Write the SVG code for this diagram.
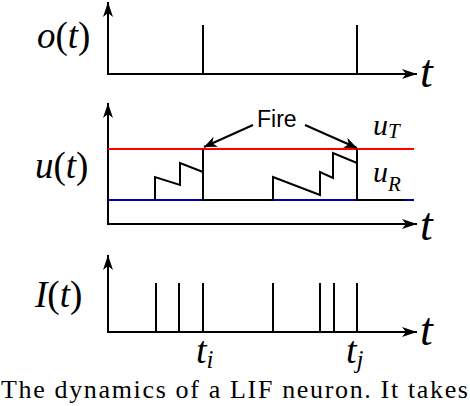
<svg xmlns="http://www.w3.org/2000/svg" width="470" height="406" viewBox="0 0 470 406">
<style>
.ax{stroke:#000;stroke-width:2;fill:none}
.sp{stroke:#000;stroke-width:2;fill:none}
.m{font-family:'Liberation Serif','Times New Roman',serif;font-style:italic;fill:#000}
.r{font-style:normal}
.cap{font-family:'Liberation Serif','Times New Roman',serif;font-size:26px;fill:#000}
</style>
<defs>
<marker id="ah" markerUnits="userSpaceOnUse" markerWidth="16" markerHeight="12" viewBox="-15 -6 16 12" refX="0" refY="0" orient="auto">
<path d="M0,0 L-15,-5 L-11,0 L-15,5 Z" fill="#000"/>
</marker>
<marker id="fh" markerUnits="userSpaceOnUse" markerWidth="14" markerHeight="12" viewBox="-13 -6 14 12" refX="0" refY="0" orient="auto">
<path d="M0,0 L-13,-5.5 L-9,0 L-13,5.5 Z" fill="#000"/>
</marker>
</defs>
<rect width="470" height="406" fill="#fff"/>

<g id="panel-o">
<path class="ax" d="M108,74 V2" marker-end="url(#ah)"/>
<path class="ax" d="M107,74 H417" marker-end="url(#ah)"/>
<path class="sp" d="M203,74 V25 M357,74 V25"/>
<text class="m" x="37" y="48" font-size="37">o<tspan class="r">(</tspan>t<tspan class="r">)</tspan></text>
<text class="m" x="420" y="87" font-size="46">t</text>
</g>

<g id="panel-u">
<path class="ax" d="M108,224 V103" marker-end="url(#ah)"/>
<path class="ax" d="M107,224 H417" marker-end="url(#ah)"/>
<line x1="108" y1="149" x2="414" y2="149" stroke="#f00" stroke-width="2"/>
<line x1="108" y1="200" x2="414" y2="200" stroke="#00a" stroke-width="2"/>
<path class="sp" stroke-linejoin="miter" d="M155,200 V177 L180,185 V163 L203,172 V149 M203,149 V200 H273 V177 L320,195 V172 L333,178 V153 L357,163 V149 M357,149 V200 H404"/>
<text class="m" x="35" y="178" font-size="37">u<tspan class="r">(</tspan>t<tspan class="r">)</tspan></text>
<text class="m" x="420" y="240" font-size="46">t</text>
<text class="m" x="373" y="135" font-size="30">u<tspan font-size="21" dy="3">T</tspan></text>
<text class="m" x="373" y="182" font-size="30">u<tspan font-size="21" dy="9">R</tspan></text>
</g>

<g id="fire">
<text x="257" y="127" font-family="'Liberation Sans', Arial, sans-serif" font-size="23" fill="#000">Fire</text>
</g>

<g id="connectors">
<path class="sp" d="M253,125 L204,147" marker-end="url(#fh)"/>
<path class="sp" d="M305,125 L357,148" marker-end="url(#fh)"/>
</g>

<g id="panel-I">
<path class="ax" d="M108,332 V255" marker-end="url(#ah)"/>
<path class="ax" d="M107,332 H417" marker-end="url(#ah)"/>
<path class="sp" d="M156,332 V283 M179,332 V283 M203,332 V283 M273,332 V283 M320,332 V283 M334,332 V283 M357,332 V283"/>
<text class="m" x="35" y="307" font-size="37">I<tspan class="r">(</tspan>t<tspan class="r">)</tspan></text>
<text class="m" x="420" y="345" font-size="46">t</text>
<text class="m" x="196" y="363" font-size="38">t<tspan font-size="25" dy="5">i</tspan></text>
<text class="m" x="346" y="363" font-size="38">t<tspan font-size="25" dy="5">j</tspan></text>
</g>

<text class="cap" x="1" y="398" textLength="467" lengthAdjust="spacing">The dynamics of a LIF neuron. It takes</text>
</svg>
